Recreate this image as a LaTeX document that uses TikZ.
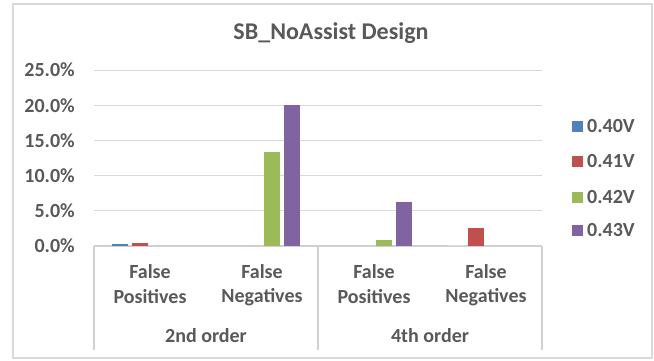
\documentclass[tikz,border=0pt]{standalone}
\usepackage{fontspec}
\setmainfont{Carlito}
\definecolor{txt}{HTML}{595959}
\definecolor{grid}{HTML}{D9D9D9}
\definecolor{axisc}{HTML}{D0D0D0}
\definecolor{sA}{HTML}{4F81BD}
\definecolor{sB}{HTML}{C0504D}
\definecolor{sC}{HTML}{9BBB59}
\definecolor{sD}{HTML}{8064A2}
\tikzset{
  lbl/.style={text=txt,font=\bfseries\fontsize{20}{24}\selectfont,inner sep=0pt},
  ttl/.style={text=txt,font=\bfseries\fontsize{24}{28}\selectfont,inner sep=0pt},
  gridline/.style={draw=grid,line width=1pt},
  axisline/.style={draw=axisc,line width=1.5pt},
  keybox/.style={minimum size=11pt,inner sep=0pt,draw=none},
}
% one bar: category index, series index, value in percent, colour
\newcommand{\chartbar}[4]{%
  \fill[#4] ({94+112*#1+18+20*#2},246) rectangle ++(16,{-7.04*#3});}
\begin{document}
\begin{tikzpicture}[x=1pt,y=-1pt]
\useasboundingbox (0,0) rectangle (654,360);
\fill[white] (0,0) rectangle (654,360);
% chart frame
\draw[draw=grid,line width=1.2pt] (13,4) rectangle (652,358);
% title
\node[ttl] (title) at (331,33) {SB\_NoAssist Design};
% gridlines and value labels
\foreach \v in {5,10,15,20,25}{
  \draw[gridline] (94,{246-7.04*\v}) -- (542,{246-7.04*\v});
}
\foreach \v/\t [count=\i] in {0/0.0\%,5/5.0\%,10/10.0\%,15/15.0\%,20/20.0\%,25/25.0\%}{
  \node[lbl,anchor=east] (tick\i) at (75,{246-7.04*\v}) {\t};
}
% category axis
\draw[axisline] (94,246) -- (542,246);
\foreach \x in {94,318,542}{
  \draw[axisline,line width=1.2pt] (\x,246) -- (\x,350);
}
% bars
\chartbar{0}{0}{0.3}{sA}
\chartbar{0}{1}{0.45}{sB}
\chartbar{1}{1}{0.15}{sB!35}
\chartbar{1}{2}{13.4}{sC}
\chartbar{1}{3}{20.1}{sD}
\chartbar{2}{2}{0.9}{sC}
\chartbar{2}{3}{6.2}{sD}
\chartbar{3}{0}{0.15}{sA!25}
\chartbar{3}{1}{2.6}{sB}
% category labels
\foreach \c/\w [count=\i] in {150/Positives,262/Negatives,374/Positives,486/Negatives}{
  \node[lbl] (catA\i) at (\c,272) {False};
  \node[lbl] (catB\i) at (\c,297) {\w};
}
\node[lbl] (grpA) at (206,336) {2nd order};
\node[lbl] (grpB) at (430,336) {4th order};
% legend
\foreach \y/\c/\t [count=\i] in {126/sA/0.40V,161/sB/0.41V,197/sC/0.42V,230/sD/0.43V}{
  \node[keybox,fill=\c] (key\i) at (577,\y) {};
  \node[lbl,anchor=west] (keytxt\i) at (587,\y) {\t};
}
\end{tikzpicture}
\end{document}
